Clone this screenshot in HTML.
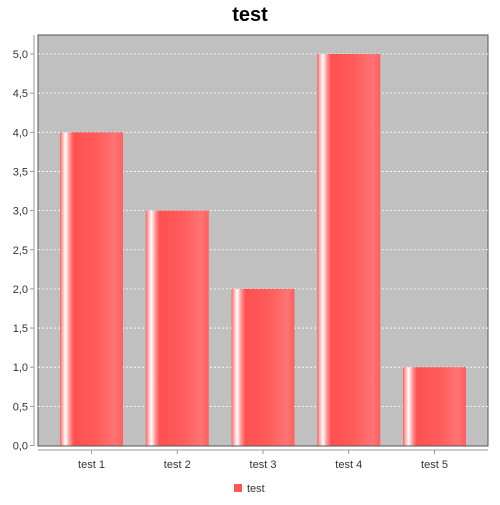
<!DOCTYPE html>
<html><head><meta charset="utf-8"><style>
body{margin:0;background:#fff;font-family:"Liberation Sans","DejaVu Sans",sans-serif}
</style></head><body>
<svg width="500" height="500" xmlns="http://www.w3.org/2000/svg">
<defs>
<linearGradient id="bg" x1="0" x2="1" y1="0" y2="0">
<stop offset="0" stop-color="#ff5a5a"/>
<stop offset="0.03" stop-color="#ffa0a0"/>
<stop offset="0.09" stop-color="#ffffff"/>
<stop offset="0.15" stop-color="#ff9a9a"/>
<stop offset="0.22" stop-color="#ff5050"/>
<stop offset="0.6" stop-color="#ff5c5c"/>
<stop offset="0.88" stop-color="#ff7474"/>
<stop offset="1" stop-color="#ff5e5e"/>
</linearGradient>
</defs>
<text x="250" y="21" text-anchor="middle" font-size="20" font-weight="bold" fill="#000">test</text>
<rect x="38" y="35" width="450" height="411" fill="#c0c0c0" stroke="#555" stroke-width="1"/>
<g id="grid"></g>
<g id="bars"></g>
<line x1="34" y1="35" x2="34" y2="446" stroke="#999"/>
<line x1="38" y1="450" x2="488" y2="450" stroke="#999"/>
<g id="yt"></g><g id="xt"></g>
<rect x="234" y="484" width="8" height="8" fill="#ff5555"/>
<text x="247" y="492" font-size="11" fill="#333">test</text>
</svg>
<script>
const categories=["test 1","test 2","test 3","test 4","test 5"];
const values=[4,3,2,5,1];
const yTicks=[0,0.5,1,1.5,2,2.5,3,3.5,4,4.5,5];
const tickLabels=["0,0","0,5","1,0","1,5","2,0","2,5","3,0","3,5","4,0","4,5","5,0"];
const NS="http://www.w3.org/2000/svg";
function y(v){return 445.5-v*78.3;}
function xc(i){return 91.5+i*85.75;}
function mk(t,a,p){const e=document.createElementNS(NS,t);for(const k in a)e.setAttribute(k,a[k]);p.appendChild(e);return e;}
const g=document.getElementById('grid'),yt=document.getElementById('yt'),xt=document.getElementById('xt'),b=document.getElementById('bars');
yTicks.forEach((v,i)=>{
 if(v>0){const l=mk('line',{x1:38,x2:488,y1:y(v),y2:y(v),stroke:'#fff','stroke-dasharray':'2,2','stroke-width':0.8},g);
 
 }
 const t=mk('line',{x1:30,x2:34,y1:y(v),y2:y(v),stroke:'#999'},yt);
 
 
 const tx=mk('text',{x:28,y:y(v)+4,'text-anchor':'end','font-size':11,fill:'#333'},yt);tx.textContent=tickLabels[i];
 
 
});
categories.forEach((c,i)=>{
 const r=mk('rect',{x:xc(i)-31.5,y:y(values[i]),width:63,height:445.5-y(values[i]),fill:'url(#bg)'},b);
 
 
 const t=mk('line',{x1:xc(i),x2:xc(i),y1:450,y2:454,stroke:'#999'},xt);
 
 
 const tx=mk('text',{x:xc(i),y:468,'text-anchor':'middle','font-size':11,fill:'#333'},xt);tx.textContent=c;
 
 
});
</script>
</body></html>
